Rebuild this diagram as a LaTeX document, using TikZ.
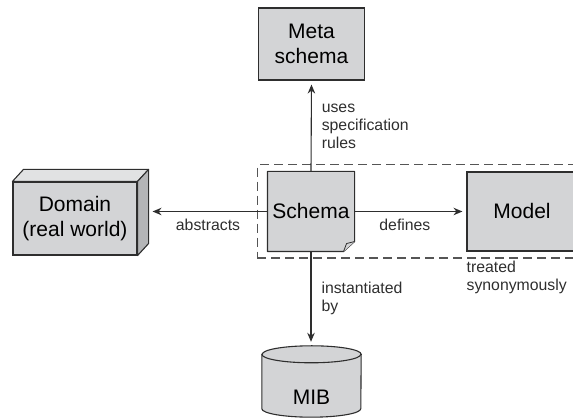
\documentclass[tikz,border=0pt]{standalone}
\usepackage{fontspec}
\setmainfont{Liberation Sans}
\usetikzlibrary{arrows.meta,positioning,calc,fit,backgrounds}
\definecolor{Ink}{HTML}{2E2E2E}
\definecolor{Shade}{HTML}{D3D4D6}
\definecolor{ShadeTop}{HTML}{E1E2E3}
\definecolor{ShadeSide}{HTML}{B4B5B7}
\definecolor{Dash}{HTML}{555555}

\begin{document}
\begin{tikzpicture}[x=1pt,y=1pt,>={Stealth[length=9pt,width=7.5pt]},
    box/.style={draw=Ink,fill=Shade,line width=1.1pt,align=center,font=\fontsize{21}{25}\selectfont},
    conn/.style={->,draw=Ink,line width=1.1pt,shorten >=4pt},
    lbl/.style={font=\fontsize{15.8}{18}\selectfont,text=Ink,align=left,inner sep=0pt}]
    \useasboundingbox (0,0) rectangle (573,419);
    \node[box,minimum width=106pt,minimum height=72pt] (meta) at (311.5,375) {Meta\\schema};
    \node[box,draw=none,fill=none,minimum width=86pt,minimum height=79pt] (schema) at (311,207.5) {Schema};
    \node[box,minimum width=110pt,minimum height=79pt] (model) at (522,207.5) {Model};
    \node[box,minimum width=124pt,minimum height=73pt] (domain) at (75,200.5) {Domain\\(real world)};
    \node[minimum width=99pt,minimum height=71pt,inner sep=0pt] (mib) at (311.5,37.5) {};
    \node[font=\fontsize{21}{25}\selectfont] (mibtext) at ([yshift=-15.5pt]mib.center) {MIB};
    \begin{scope}[on background layer]
      % note shape with the folded corner
      \draw[Ink,fill=Shade,line width=1.1pt,line join=round] (schema.north west) -- (schema.north east)
        -- ([yshift=10pt]schema.south east) -- ([xshift=-11pt]schema.south east) -- (schema.south west) -- cycle;
      \draw[Ink,fill=Shade,line width=0.8pt,line join=round] ([yshift=10pt]schema.south east)
        -- ([xshift=-8pt,yshift=8pt]schema.south east) -- ([xshift=-11pt]schema.south east);
      % box faces
      \draw[Ink,fill=ShadeTop,line width=1.1pt,line join=round] (domain.north west) -- ++(11pt,12pt)
        -- ([shift={(11pt,12pt)}]domain.north east) -- (domain.north east) -- cycle;
      \draw[Ink,fill=ShadeSide,line width=1.1pt,line join=round] (domain.north east) -- ++(11pt,12pt)
        -- ([shift={(11pt,12pt)}]domain.south east) -- (domain.south east) -- cycle;
      % cylinder
      \draw[Ink,fill=Shade,line width=1.1pt] ([yshift=-8.5pt]mib.north west) -- ([yshift=8.5pt]mib.south west)
        arc[start angle=180,end angle=360,x radius=49.5pt,y radius=8.5pt]
        -- ([yshift=-8.5pt]mib.north east) arc[start angle=0,end angle=180,x radius=49.5pt,y radius=8.5pt] -- cycle;
      \draw[Ink,line width=1.1pt] ([yshift=-8.5pt]mib.north west)
        arc[start angle=180,end angle=360,x radius=49.5pt,y radius=8.5pt];
    \end{scope}
    \node[draw=Dash,dash pattern=on 9pt off 5pt,line width=1.1pt,fit=(schema)(model),
      inner xsep=10pt,inner ysep=6.5pt] (group) {};
    \draw[conn] (schema.north) -- (meta.south) node[lbl,midway,right=10pt] {uses\\specification\\rules};
    \draw[conn] (schema.west) -- ([xshift=11pt]schema.west -| domain.east) node[lbl,midway,below=7pt] {abstracts};
    \draw[conn] (schema.east) -- (model.west) node[lbl,pos=0.45,below=7pt] {defines};
    \draw[conn] (schema.south) -- (schema.south |- mib.north) node[lbl,midway,right=10pt] {instantiated\\by};
    \node[lbl,anchor=north west] (note) at ([yshift=-9pt]model.south west) {treated\\synonymously};
  \end{tikzpicture}
\end{document}
